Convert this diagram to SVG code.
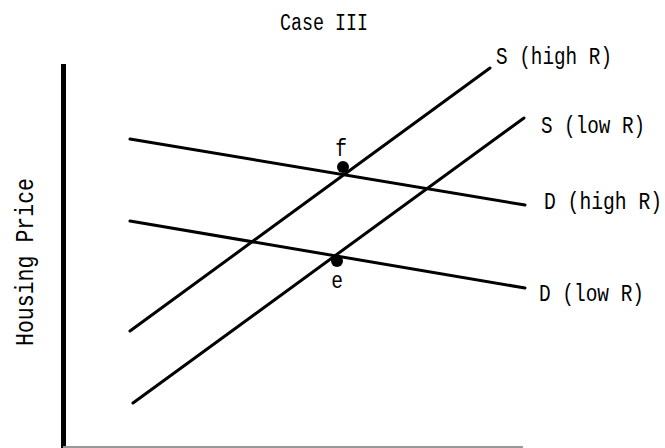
<svg xmlns="http://www.w3.org/2000/svg" width="665" height="448" viewBox="0 0 665 448">
<style>
.t{font-family:"Liberation Mono","DejaVu Sans Mono",monospace;font-size:19.5px;fill:#000}
.ln{stroke:#000;stroke-width:3;stroke-linecap:round;fill:none}
</style>
<rect width="665" height="448" fill="#fff"/>
<g id="axes">
<line x1="63.5" y1="64" x2="63.5" y2="448" stroke="#000" stroke-width="5"/>
<line x1="63" y1="447" x2="523" y2="447" stroke="#999" stroke-width="2"/>
<text class="t" style="font-size:21px" transform="translate(33,346) rotate(-90) scale(1,1.25)" textLength="168" lengthAdjust="spacingAndGlyphs">Housing Price</text>
</g>
<text id="title" class="t" style="font-size:18.5px" transform="translate(280,30) scale(1,1.25)" textLength="88" lengthAdjust="spacingAndGlyphs">Case III</text>
<g id="connectors">
<line id="s-high" class="ln" x1="130" y1="331" x2="490" y2="68"/>
<line id="s-low" class="ln" x1="133" y1="403" x2="524" y2="118"/>
<line id="d-high" class="ln" x1="130" y1="139" x2="525" y2="205"/>
<line id="d-low" class="ln" x1="130" y1="221" x2="525" y2="288"/>
</g>
<g id="label-s-high"><text class="t" transform="translate(496,64) scale(1,1.25)" textLength="116" lengthAdjust="spacingAndGlyphs">S (high R)</text></g>
<g id="label-s-low"><text class="t" transform="translate(541,133) scale(1,1.25)" textLength="104" lengthAdjust="spacingAndGlyphs">S (low R)</text></g>
<g id="label-d-high"><text class="t" transform="translate(544,209) scale(1,1.25)" textLength="118" lengthAdjust="spacingAndGlyphs">D (high R)</text></g>
<g id="label-d-low"><text class="t" transform="translate(539,301) scale(1,1.25)" textLength="105" lengthAdjust="spacingAndGlyphs">D (low R)</text></g>
<g id="point-f"><circle cx="343" cy="167" r="6" fill="#000"/><text class="t" transform="translate(341,156) scale(1,1.25)" text-anchor="middle">f</text></g>
<g id="point-e"><circle cx="337" cy="261" r="6" fill="#000"/><text class="t" transform="translate(337,288) scale(1,1.25)" text-anchor="middle">e</text></g>
</svg>
